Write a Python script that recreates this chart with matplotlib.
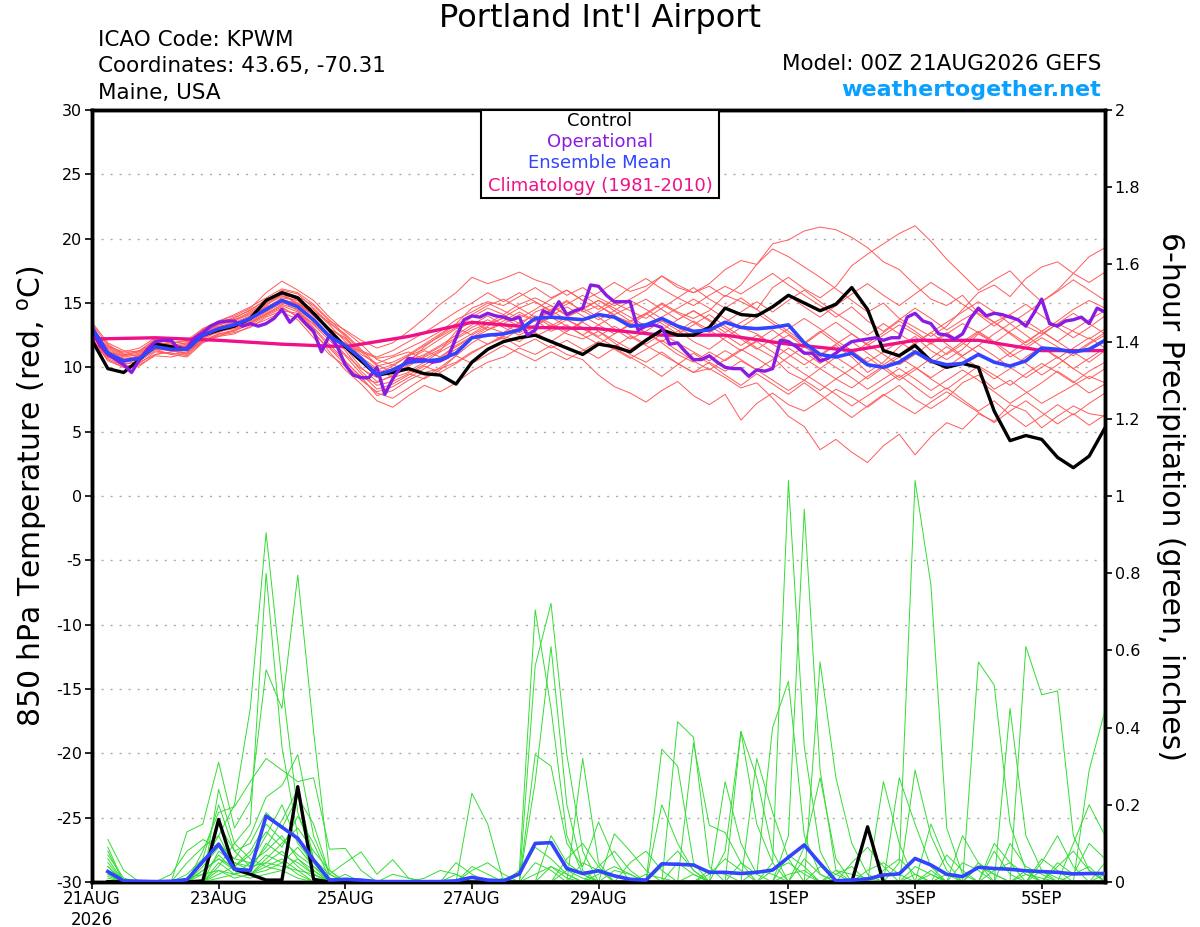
import numpy as np
import matplotlib
matplotlib.use("Agg")
import matplotlib.pyplot as plt
from matplotlib.patches import Rectangle

plt.rcParams['font.family'] = ['DejaVu Sans']
plt.rcParams['axes.unicode_minus'] = False

# forecast hours, 6-hourly (temps) and 3-hourly (operational)
hours = np.arange(0, 385, 6)
hours_op = np.arange(0, 385, 3)
hours_pr = np.arange(6, 385, 6)
clim_hours = np.arange(0, 385, 24)

tick_hours = [0, 48, 96, 144, 192, 264, 312, 360]
tick_labels = ['21AUG\n2026', '23AUG', '25AUG', '27AUG', '29AUG', '1SEP', '3SEP', '5SEP']

# 850 hPa temperature (C)
t_control = [12.1, 9.9, 9.6, 10.6, 11.8, 11.6, 11.4, 12.5, 12.9, 13.2, 13.8, 15.2, 15.8,
             15.4, 14.2, 12.9, 11.6, 10.5, 9.4, 9.6, 9.9, 9.5, 9.4, 8.7, 10.4, 11.4,
             12.0, 12.3, 12.5, 12.0, 11.5, 11.0, 11.8, 11.6, 11.2, 12.1, 12.9, 12.5, 12.5,
             13.1, 14.6, 14.1, 14.0, 14.7, 15.6, 15.0, 14.4, 14.9, 16.2, 14.5, 11.3, 10.9,
             11.7, 10.5, 10.0, 10.3, 10.0, 6.6, 4.3, 4.7, 4.4, 3.0, 2.2, 3.1, 5.3]

t_mean = [13.1, 11.1, 10.5, 10.7, 11.6, 11.4, 11.4, 12.5, 13.0, 13.3, 13.8, 14.5, 15.2,
          14.7, 13.7, 12.4, 11.7, 10.7, 9.4, 9.8, 10.4, 10.5, 10.6, 11.1, 12.3, 12.5,
          12.6, 12.9, 13.8, 13.9, 13.8, 13.7, 14.1, 13.9, 13.2, 13.3, 13.8, 13.2, 12.8,
          12.9, 13.5, 13.1, 13.0, 13.1, 13.3, 11.9, 11.0, 10.8, 11.1, 10.2, 10.0, 10.4,
          11.2, 10.5, 10.2, 10.3, 11.0, 10.4, 10.1, 10.5, 11.5, 11.4, 11.2, 11.4, 12.1]

t_oper = [12.9, 11.7, 11.0, 10.6, 10.2, 9.6, 10.6, 11.4, 12.0, 12.1,
          12.1, 11.4, 11.5, 12.3, 12.7, 13.2, 13.5, 13.6, 13.6, 13.2,
          13.4, 13.2, 13.4, 13.8, 14.5, 13.5, 14.1, 13.4, 12.8, 11.2,
          12.5, 11.6, 10.2, 9.4, 9.2, 9.2, 10.0, 7.9, 9.1, 10.0,
          10.7, 10.6, 10.6, 10.4, 10.5, 10.8, 12.3, 13.7, 14.0, 13.9,
          14.2, 14.0, 13.9, 13.7, 13.9, 12.5, 12.9, 14.4, 14.1, 15.1,
          14.1, 14.4, 14.6, 16.4, 16.3, 15.6, 15.1, 15.1, 15.1, 12.9,
          13.2, 13.3, 13.1, 11.8, 11.9, 11.2, 10.6, 10.6, 10.9, 10.4,
          10.0, 9.9, 9.9, 9.3, 9.8, 9.7, 9.9, 12.1, 12.0, 11.6,
          11.1, 11.1, 10.5, 10.7, 11.1, 11.6, 12.0, 12.1, 12.2, 12.3,
          12.1, 12.3, 12.3, 13.9, 14.2, 13.6, 13.4, 12.6, 12.5, 12.2,
          12.6, 13.8, 14.6, 14.0, 14.2, 14.1, 13.9, 13.7, 13.2, 14.2,
          15.3, 13.4, 13.2, 13.6, 13.7, 13.9, 13.4, 14.6, 14.3]

t_clim = [12.2, 12.3, 12.1, 11.8, 11.6, 12.4, 13.5, 13.1, 13.0, 12.5, 12.5, 11.8,
          11.3, 12.1, 12.1, 11.3, 11.3]

# ensemble members (estimated)
t_m01 = [12.8, 11.4, 10.8, 11.0, 11.9, 11.8, 11.6, 12.8, 13.3, 13.6, 14.2, 15.0, 15.6,
         15.0, 14.1, 13.0, 12.3, 11.2, 10.1, 10.4, 11.0, 11.8, 12.6, 13.4, 14.6, 15.1,
         14.8, 15.5, 16.2, 15.4, 16.0, 15.2, 15.8, 16.6, 15.9, 16.3, 17.1, 16.4, 15.8,
         16.5, 17.6, 18.3, 18.0, 19.6, 19.9, 20.6, 20.9, 20.7, 20.1, 19.3, 18.2, 17.6,
         16.4, 15.3, 14.8, 15.6, 14.2, 13.5, 14.1, 13.2, 12.6, 13.4, 12.8, 12.2, 13.0]
t_m02 = [13.3, 11.0, 10.2, 10.5, 11.3, 11.0, 11.2, 12.2, 12.8, 13.0, 13.5, 14.2, 14.8,
         14.3, 13.0, 11.6, 10.4, 9.3, 7.8, 8.2, 9.0, 9.6, 9.9, 10.4, 11.2, 11.8,
         12.4, 12.0, 12.9, 13.3, 12.6, 12.2, 12.8, 11.9, 11.0, 10.4, 11.2, 10.3, 9.6,
         9.9, 9.2, 8.4, 8.8, 7.6, 6.2, 5.4, 3.6, 4.4, 3.4, 2.6, 3.9, 4.8,
         3.2, 4.6, 5.7, 5.2, 6.4, 5.8, 7.1, 6.6, 5.3, 6.2, 7.0, 6.4, 6.2]
t_m03 = [12.5, 11.6, 11.2, 11.5, 12.3, 12.0, 11.8, 13.0, 13.6, 14.0, 14.6, 15.8, 16.7,
         16.0, 15.2, 13.9, 12.8, 11.8, 10.6, 10.2, 10.9, 11.4, 12.2, 13.0, 13.9, 14.6,
         14.1, 14.9, 15.4, 14.8, 14.0, 14.6, 15.2, 14.4, 13.6, 14.2, 15.0, 14.3, 13.8,
         14.4, 15.6, 15.1, 14.5, 16.2, 17.0, 16.1, 15.4, 16.3, 17.9, 18.8, 19.6, 20.4,
         21.0, 19.8, 18.4, 17.2, 16.0, 16.8, 17.5, 16.2, 15.1, 16.0, 17.3, 18.6, 19.3]
t_m04 = [12.9, 11.8, 11.0, 11.2, 12.0, 11.7, 11.9, 12.9, 13.4, 13.9, 14.4, 15.3, 15.9,
         15.5, 14.8, 13.6, 12.9, 12.1, 11.5, 11.9, 12.8, 13.8, 14.9, 15.8, 17.0, 16.5,
         16.9, 17.4, 16.8, 16.4, 15.6, 16.2, 15.4, 14.8, 15.3, 16.0, 17.1, 16.2, 15.8,
         16.3, 15.5, 16.4, 18.0, 19.2, 18.6, 17.8, 17.0, 16.1, 15.2, 14.3, 15.0, 13.8,
         13.1, 12.4, 13.2, 14.5, 15.8, 16.4, 15.5, 16.9, 17.8, 18.2, 17.3, 16.6, 17.4]
t_m05 = [12.0, 10.6, 10.0, 10.3, 11.2, 11.1, 10.9, 12.0, 12.6, 12.9, 13.3, 14.0, 14.6,
         14.0, 12.8, 11.2, 9.8, 8.7, 7.4, 6.9, 7.8, 8.6, 8.1, 8.8, 9.7, 10.4,
         10.8, 11.5, 11.0, 11.7, 11.0, 10.6, 9.4, 8.5, 8.0, 7.3, 8.2, 8.9, 7.8,
         7.1, 7.9, 5.9, 7.2, 8.0, 7.1, 6.6, 7.4, 8.3, 7.7, 6.9, 7.8, 8.6,
         7.5, 6.8, 7.6, 8.8, 9.4, 8.3, 9.0, 8.1, 7.2, 7.9, 8.6, 9.3, 8.8]
t_m06 = [13.0, 11.2, 10.6, 10.9, 11.7, 11.6, 11.3, 12.6, 13.1, 13.5, 14.0, 14.7, 15.3,
         14.6, 13.5, 12.5, 11.5, 10.0, 8.9, 9.3, 10.1, 10.8, 11.4, 12.2, 12.9, 13.4,
         13.8, 13.2, 14.3, 14.8, 14.1, 14.6, 13.9, 13.0, 12.2, 12.8, 13.6, 12.9, 12.0,
         11.4, 12.3, 13.1, 12.6, 11.8, 12.5, 11.6, 10.9, 11.7, 10.8, 9.6, 10.4, 11.6,
         12.4, 11.3, 10.6, 11.4, 12.6, 11.9, 10.8, 11.5, 12.3, 11.6, 10.9, 11.8, 12.5]
t_m07 = [12.6, 10.8, 10.4, 10.6, 11.4, 11.3, 11.0, 12.3, 12.9, 13.1, 13.6, 14.3, 15.0,
         14.9, 14.0, 13.0, 12.2, 11.0, 10.3, 10.8, 11.2, 10.6, 11.3, 12.8, 13.6, 12.9,
         13.4, 14.1, 13.6, 14.5, 15.2, 14.3, 14.8, 14.0, 13.5, 14.2, 13.4, 12.6, 13.3,
         14.1, 13.2, 12.4, 11.5, 10.8, 9.6, 9.0, 8.2, 9.1, 8.4, 9.3, 10.1, 9.2,
         10.0, 9.1, 8.3, 9.2, 10.1, 9.4, 8.6, 9.5, 10.3, 9.6, 8.8, 9.7, 10.4]
t_m08 = [13.2, 11.3, 10.7, 10.8, 11.6, 11.5, 11.7, 12.7, 13.2, 13.4, 13.9, 14.6, 15.4,
         15.2, 14.5, 13.3, 12.0, 10.8, 9.9, 9.2, 9.6, 10.2, 10.8, 11.6, 12.3, 13.1,
         12.7, 13.5, 14.0, 13.4, 12.8, 13.6, 14.3, 15.0, 14.4, 13.8, 14.6, 15.4, 14.8,
         15.6, 16.3, 15.7, 16.5, 17.3, 16.4, 15.6, 14.8, 13.9, 14.7, 13.6, 12.8, 13.7,
         14.6, 13.8, 12.9, 13.7, 14.4, 13.5, 12.7, 11.9, 12.8, 13.6, 14.5, 15.2, 14.6]
t_m09 = [12.4, 10.9, 10.3, 10.4, 11.0, 11.2, 11.5, 12.4, 12.7, 13.2, 13.9, 14.8, 15.7,
         15.3, 14.2, 12.7, 11.3, 9.7, 8.6, 8.9, 9.5, 9.1, 9.8, 10.9, 11.9, 12.6,
         12.2, 12.9, 13.7, 12.8, 13.3, 12.5, 11.8, 12.6, 13.4, 12.7, 11.9, 11.0, 10.4,
         11.2, 10.5, 11.3, 12.0, 11.2, 10.3, 9.5, 8.7, 7.9, 7.0, 7.8, 8.6, 9.4,
         8.5, 7.6, 8.4, 7.5, 6.6, 7.4, 6.3, 5.4, 6.2, 7.1, 6.3, 7.2, 8.0]
t_m10 = [13.1, 11.5, 10.9, 11.1, 11.8, 11.4, 11.6, 12.4, 13.0, 13.7, 14.3, 15.1, 16.0,
         15.7, 14.6, 13.4, 12.6, 11.4, 10.2, 9.6, 10.4, 11.6, 12.5, 13.3, 14.1, 14.8,
         15.3, 14.6, 15.1, 14.3, 14.9, 15.6, 14.8, 14.1, 14.7, 15.3, 14.5, 13.7, 14.4,
         13.6, 12.7, 13.5, 14.2, 13.4, 12.6, 11.8, 12.7, 13.5, 12.6, 11.7, 12.5, 13.3,
         12.6, 11.8, 12.6, 13.4, 12.7, 11.9, 12.8, 13.6, 12.8, 12.0, 12.9, 13.7, 14.4]
t_m11 = [12.7, 11.0, 10.5, 10.7, 11.5, 11.3, 11.1, 12.1, 12.6, 12.8, 13.4, 14.1, 14.9,
         14.5, 13.3, 12.1, 10.9, 9.5, 8.3, 8.7, 9.4, 10.1, 9.6, 10.3, 11.1, 11.8,
         12.5, 13.1, 12.4, 13.0, 13.7, 13.1, 12.4, 13.2, 12.5, 11.8, 12.6, 11.9, 11.2,
         10.5, 11.3, 10.6, 9.8, 10.6, 11.5, 10.7, 9.9, 9.1, 9.9, 10.8, 9.9, 9.0,
         9.8, 10.7, 11.6, 10.8, 10.0, 9.1, 9.9, 10.8, 11.6, 10.8, 9.9, 10.7, 11.5]
t_m12 = [13.4, 11.7, 11.1, 11.3, 12.1, 11.9, 12.0, 12.9, 13.5, 13.8, 14.5, 15.2, 15.8,
         14.8, 13.6, 12.4, 11.9, 11.2, 10.7, 10.9, 11.5, 12.1, 12.8, 13.7, 14.3, 15.0,
         14.4, 13.8, 14.5, 15.3, 16.0, 15.2, 14.5, 15.3, 16.2, 16.9, 16.1, 15.4, 16.2,
         15.3, 14.6, 15.4, 14.5, 13.6, 12.8, 11.9, 12.8, 11.9, 11.0, 11.9, 12.7, 13.6,
         12.8, 11.9, 11.0, 11.8, 12.7, 13.5, 12.6, 11.7, 12.5, 13.4, 14.2, 13.4, 12.6]
t_m13 = [12.2, 10.7, 10.1, 10.2, 10.9, 10.8, 11.1, 12.0, 12.5, 12.7, 13.1, 13.9, 14.4,
         14.2, 13.4, 12.3, 11.0, 9.9, 9.2, 9.7, 10.6, 11.3, 10.8, 11.7, 12.4, 11.8,
         12.3, 11.6, 12.2, 11.5, 12.1, 11.4, 10.7, 11.5, 10.8, 10.1, 9.3, 10.2, 11.1,
         10.3, 9.4, 8.6, 9.5, 8.7, 7.9, 8.8, 7.9, 7.0, 6.1, 7.0, 7.9, 7.1,
         6.4, 7.3, 8.1, 7.3, 6.5, 5.7, 6.6, 7.4, 6.5, 5.6, 6.4, 5.5, 6.3]
t_m14 = [12.9, 11.1, 10.6, 10.6, 11.5, 11.6, 11.8, 12.6, 13.1, 13.4, 13.9, 14.5, 15.2,
         15.0, 14.3, 13.5, 12.4, 10.7, 9.4, 9.9, 10.5, 11.0, 11.7, 12.5, 13.3, 14.0,
         13.3, 12.7, 13.3, 14.0, 14.7, 14.0, 13.3, 12.6, 13.3, 14.1, 14.9, 14.2, 13.5,
         12.7, 13.5, 14.3, 15.1, 14.3, 15.2, 16.0, 15.1, 14.2, 13.4, 12.5, 13.4, 12.6,
         11.8, 12.7, 13.5, 14.3, 15.1, 14.3, 13.4, 14.2, 15.1, 15.9, 16.8, 16.0, 15.2]
t_m15 = [12.3, 10.5, 10.0, 10.1, 11.0, 11.2, 11.3, 12.1, 12.4, 12.9, 13.5, 14.1, 14.7,
         13.9, 12.6, 11.5, 10.2, 9.1, 8.0, 7.6, 8.4, 9.2, 10.0, 10.9, 10.3, 11.0,
         11.7, 11.1, 10.5, 11.2, 10.6, 11.3, 12.0, 11.4, 10.7, 11.4, 12.1, 11.3, 10.5,
         9.8, 10.6, 11.4, 10.7, 9.9, 10.8, 11.6, 10.8, 10.0, 9.2, 8.3, 9.1, 9.9,
         9.1, 8.2, 9.0, 9.8, 9.0, 8.1, 7.2, 8.0, 8.8, 9.7, 8.9, 8.0, 8.7]
t_m16 = [13.0, 11.3, 10.4, 10.8, 11.7, 11.5, 11.4, 12.7, 13.3, 13.7, 14.1, 14.9, 15.5,
         15.2, 14.0, 12.8, 11.6, 10.4, 9.5, 10.1, 10.9, 11.7, 12.4, 13.1, 12.5, 13.2,
         13.9, 14.6, 13.9, 13.2, 13.9, 14.5, 15.2, 14.6, 13.9, 13.2, 13.9, 14.6, 15.3,
         14.6, 13.8, 13.1, 13.9, 14.8, 15.6, 14.7, 13.9, 14.8, 15.7, 16.5, 15.6, 14.8,
         15.7, 16.6, 15.8, 14.9, 14.1, 13.2, 14.1, 14.9, 14.0, 13.1, 12.3, 13.1, 14.0]
t_m17 = [12.6, 11.2, 10.9, 11.3, 12.2, 11.9, 11.5, 12.5, 13.0, 13.3, 13.7, 14.4, 15.1,
         14.4, 13.1, 11.8, 10.5, 9.2, 8.8, 9.4, 10.2, 10.9, 11.6, 12.3, 13.1, 13.7,
         13.1, 12.5, 13.2, 13.9, 13.2, 12.5, 13.3, 14.0, 13.4, 12.7, 12.0, 12.8, 13.6,
         12.9, 12.1, 11.3, 12.1, 12.9, 12.0, 11.2, 10.3, 11.1, 12.0, 11.1, 10.2, 11.0,
         11.9, 12.7, 11.8, 10.9, 11.7, 12.6, 13.4, 12.5, 11.6, 10.7, 11.5, 12.3, 11.5]
t_m18 = [12.1, 10.8, 10.6, 10.9, 11.8, 11.9, 12.1, 13.0, 13.6, 14.1, 14.7, 15.4, 16.1,
         15.8, 14.9, 13.7, 12.5, 11.3, 10.8, 11.3, 12.0, 12.7, 13.5, 14.3, 15.0, 15.8,
         15.1, 15.8, 15.1, 14.4, 15.1, 14.4, 13.7, 14.4, 15.2, 14.5, 13.8, 13.1, 12.4,
         13.2, 12.5, 11.7, 12.5, 11.8, 11.0, 10.2, 11.0, 11.8, 12.6, 11.8, 11.0, 10.2,
         11.0, 11.9, 12.7, 11.9, 11.1, 10.3, 11.1, 12.0, 12.8, 12.0, 11.2, 10.4, 11.3]
t_m19 = [13.5, 11.9, 11.3, 11.2, 11.9, 11.7, 11.6, 12.3, 12.8, 13.1, 13.8, 14.6, 15.3,
         14.9, 14.1, 12.9, 11.7, 10.6, 9.8, 10.2, 9.7, 10.4, 11.2, 11.9, 12.6, 13.4,
         14.1, 13.4, 12.7, 12.0, 12.8, 13.5, 12.8, 12.1, 11.4, 12.2, 12.9, 13.7, 14.4,
         13.7, 13.0, 12.2, 11.4, 12.2, 13.0, 13.8, 13.0, 12.1, 11.3, 10.4, 11.2, 12.0,
         11.2, 10.3, 11.1, 12.0, 12.8, 12.0, 11.1, 10.3, 9.4, 10.2, 11.1, 11.9, 12.7]
t_m20 = [12.8, 11.6, 11.0, 10.9, 11.4, 11.0, 10.8, 11.9, 12.4, 12.6, 13.2, 13.7, 14.3,
         13.7, 12.3, 11.0, 10.1, 9.0, 8.1, 8.5, 9.2, 9.9, 10.7, 11.4, 12.2, 12.9,
         13.6, 14.3, 13.6, 14.4, 13.7, 13.0, 12.3, 11.6, 12.4, 11.7, 11.0, 10.3, 9.6,
         10.4, 9.7, 10.5, 9.8, 9.0, 8.2, 9.0, 9.9, 10.8, 10.0, 9.1, 10.0, 10.8,
         10.0, 9.2, 10.0, 10.9, 11.7, 10.9, 10.0, 9.2, 10.0, 10.8, 9.9, 9.1, 9.9]

# 6-hour precipitation (inches), control and ensemble mean, steps 1..64
p_control = [0.001, 0, 0, 0, 0, 0, 0.003, 0.162, 0.033, 0.02, 0.005, 0.005, 0.247, 0.007, 0, 0,
             0, 0, 0, 0, 0, 0, 0, 0, 0, 0, 0, 0, 0, 0, 0, 0,
             0, 0, 0, 0, 0, 0, 0, 0, 0, 0, 0, 0, 0, 0, 0, 0,
             0.143, 0, 0, 0, 0, 0, 0, 0, 0, 0, 0, 0, 0, 0, 0, 0]
p_mean = [0.027, 0.003, 0.002, 0.001, 0.002, 0.006, 0.053, 0.098, 0.033, 0.03, 0.171, 0.142, 0.113, 0.057, 0.005, 0.007,
          0.005, 0.001, 0.001, 0.001, 0.001, 0.001, 0.003, 0.012, 0.005, 0.003, 0.021, 0.1, 0.102, 0.035, 0.022, 0.029,
          0.016, 0.007, 0.005, 0.047, 0.046, 0.044, 0.025, 0.025, 0.022, 0.025, 0.031, 0.064, 0.096, 0.048, 0.003, 0.005,
          0.008, 0.018, 0.021, 0.061, 0.044, 0.02, 0.014, 0.038, 0.035, 0.033, 0.029, 0.027, 0.025, 0.021, 0.022, 0.022]

# ensemble member precipitation, {step: inches}, other steps dry (estimated)
p_m01 = {1: 0.11, 2: 0.03, 7: 0.05, 8: 0.12, 9: 0.2, 10: 0.45, 11: 0.905, 12: 0.52, 13: 0.18, 14: 0.06,
         15: 0.02, 27: 0.03, 28: 0.705, 29: 0.45, 30: 0.12, 31: 0.02, 43: 0.05, 44: 1.04, 45: 0.35,
         46: 0.08, 52: 0.02, 56: 0.05, 57: 0.02}
p_m02 = {1: 0.08, 8: 0.24, 9: 0.1, 10: 0.15, 11: 0.8, 12: 0.35, 13: 0.12, 14: 0.03, 28: 0.56,
         29: 0.722, 30: 0.33, 31: 0.08, 44: 0.12, 45: 0.966, 46: 0.29, 47: 0.03, 58: 0.45, 59: 0.12, 60: 0.03}
p_m03 = {1: 0.05, 6: 0.13, 7: 0.15, 8: 0.31, 9: 0.14, 10: 0.21, 11: 0.55, 12: 0.45, 13: 0.795,
         14: 0.39, 15: 0.03, 51: 0.05, 52: 1.04, 53: 0.77, 54: 0.14, 55: 0.02}
p_m04 = {1: 0.03, 7: 0.08, 8: 0.18, 9: 0.195, 10: 0.26, 11: 0.32, 12: 0.29, 13: 0.26, 14: 0.27,
         15: 0.085, 16: 0.087, 17: 0.03, 36: 0.344, 37: 0.3, 38: 0.05, 56: 0.57, 57: 0.51, 58: 0.15, 59: 0.03}
p_m05 = {1: 0.09, 5: 0.02, 6: 0.08, 7: 0.11, 8: 0.09, 9: 0.06, 10: 0.12, 11: 0.22, 12: 0.25,
         13: 0.33, 14: 0.12, 15: 0.02, 16: 0.05, 17: 0.078, 18: 0.02, 19: 0.058, 20: 0.01, 24: 0.23,
         25: 0.15, 31: 0.32, 32: 0.05, 59: 0.61, 60: 0.485, 61: 0.495, 62: 0.12, 63: 0.03}
p_m06 = {1: 0.04, 8: 0.15, 9: 0.08, 10: 0.1, 11: 0.18, 12: 0.14, 13: 0.22, 14: 0.15, 15: 0.02,
         28: 0.33, 29: 0.3, 30: 0.1, 31: 0.04, 32: 0.156, 33: 0.06, 37: 0.415, 38: 0.375, 39: 0.04,
         41: 0.39, 42: 0.27, 43: 0.08, 63: 0.29, 64: 0.445}
p_m07 = {1: 0.02, 7: 0.05, 8: 0.1, 9: 0.06, 10: 0.05, 11: 0.12, 12: 0.2, 13: 0.1, 14: 0.05,
         28: 0.26, 29: 0.61, 30: 0.2, 31: 0.03, 40: 0.26, 41: 0.1, 42: 0.02, 43: 0.4, 44: 0.52,
         45: 0.12, 46: 0.02, 50: 0.26, 51: 0.1, 57: 0.08, 58: 0.02}
p_m08 = {1: 0.06, 7: 0.03, 8: 0.06, 9: 0.04, 10: 0.08, 11: 0.15, 12: 0.11, 13: 0.07, 14: 0.04,
         15: 0.01, 23: 0.05, 24: 0.02, 29: 0.12, 30: 0.05, 31: 0.02, 38: 0.36, 39: 0.147, 40: 0.128,
         41: 0.05, 46: 0.57, 47: 0.27, 48: 0.1, 49: 0.02, 53: 0.15, 54: 0.05}
p_m09 = {8: 0.08, 9: 0.05, 10: 0.04, 11: 0.09, 12: 0.16, 13: 0.24, 14: 0.06, 33: 0.125, 34: 0.08,
         35: 0.03, 42: 0.32, 43: 0.18, 44: 0.06, 52: 0.29, 53: 0.12, 54: 0.03, 60: 0.05, 61: 0.12, 62: 0.04}
p_m10 = {7: 0.02, 8: 0.07, 9: 0.03, 10: 0.02, 11: 0.06, 12: 0.1, 13: 0.14, 14: 0.08, 15: 0.03,
         36: 0.2, 37: 0.1, 38: 0.03, 40: 0.08, 41: 0.39, 42: 0.15, 43: 0.05, 55: 0.12, 56: 0.05,
         62: 0.1, 63: 0.2, 64: 0.12}
p_m11 = {1: 0.03, 6: 0.05, 7: 0.09, 8: 0.12, 9: 0.04, 10: 0.07, 11: 0.13, 12: 0.09, 13: 0.17,
         14: 0.1, 15: 0.01, 24: 0.03, 25: 0.05, 26: 0.02, 32: 0.04, 33: 0.08, 34: 0.03, 45: 0.06,
         46: 0.02, 51: 0.27, 52: 0.15, 53: 0.04, 57: 0.1, 58: 0.05}
p_m12 = {8: 0.05, 9: 0.02, 10: 0.03, 11: 0.07, 12: 0.05, 13: 0.09, 14: 0.04, 16: 0.02, 21: 0.01,
         22: 0.03, 23: 0.02, 30: 0.06, 31: 0.1, 32: 0.04, 39: 0.02, 40: 0.06, 41: 0.03, 47: 0.03,
         48: 0.02, 49: 0.01, 54: 0.07, 55: 0.03, 61: 0.04, 62: 0.08, 63: 0.03}
p_m13 = {1: 0.01, 7: 0.04, 8: 0.09, 9: 0.05, 10: 0.03, 11: 0.1, 12: 0.07, 13: 0.05, 14: 0.02,
         27: 0.02, 28: 0.09, 29: 0.06, 30: 0.02, 36: 0.04, 37: 0.08, 38: 0.03, 44: 0.07, 45: 0.04,
         50: 0.03, 51: 0.06, 52: 0.02, 58: 0.1, 59: 0.04, 60: 0.02, 64: 0.05}
p_m14 = {1: 0.07, 2: 0.01, 8: 0.03, 9: 0.02, 10: 0.05, 11: 0.08, 12: 0.12, 13: 0.06, 14: 0.02,
         26: 0.01, 34: 0.05, 35: 0.08, 36: 0.03, 48: 0.05, 49: 0.09, 50: 0.04, 56: 0.04, 57: 0.02,
         60: 0.06, 61: 0.03}
p_m15 = {6: 0.02, 7: 0.06, 8: 0.2, 9: 0.08, 10: 0.04, 11: 0.05, 12: 0.08, 13: 0.04, 14: 0.01,
         29: 0.04, 30: 0.02, 33: 0.03, 34: 0.02, 41: 0.05, 42: 0.02, 45: 0.09, 46: 0.27, 47: 0.06,
         53: 0.03, 62: 0.02, 63: 0.1, 64: 0.06}
p_m16 = {1: 0.02, 8: 0.04, 9: 0.1, 10: 0.06, 11: 0.04, 12: 0.06, 13: 0.03, 24: 0.04, 25: 0.02,
         31: 0.05, 32: 0.03, 37: 0.05, 38: 0.02, 43: 0.03, 44: 0.05, 45: 0.02, 52: 0.04, 53: 0.02, 59: 0.03}
p_m17 = {7: 0.03, 8: 0.06, 9: 0.03, 10: 0.02, 11: 0.04, 12: 0.03, 13: 0.06, 14: 0.03, 19: 0.02,
         20: 0.01, 28: 0.05, 29: 0.03, 35: 0.02, 36: 0.01, 46: 0.04, 47: 0.02, 55: 0.05, 56: 0.03,
         61: 0.05, 62: 0.02, 63: 0.04}
p_m18 = {1: 0.04, 8: 0.02, 9: 0.04, 10: 0.02, 11: 0.03, 12: 0.05, 13: 0.02, 32: 0.02, 33: 0.04,
         34: 0.02, 39: 0.03, 40: 0.02, 49: 0.03, 50: 0.05, 51: 0.02, 57: 0.03, 58: 0.05, 59: 0.02}
p_m19 = {6: 0.01, 7: 0.02, 8: 0.03, 9: 0.01, 10: 0.02, 11: 0.05, 12: 0.04, 13: 0.03, 14: 0.02,
         23: 0.02, 30: 0.03, 31: 0.01, 42: 0.03, 43: 0.02, 47: 0.02, 48: 0.04, 54: 0.02, 60: 0.03,
         61: 0.01, 64: 0.02}
p_m20 = {1: 0.015, 8: 0.01, 9: 0.02, 10: 0.01, 11: 0.02, 12: 0.03, 13: 0.01, 28: 0.02, 29: 0.04,
         30: 0.01, 38: 0.02, 44: 0.02, 45: 0.03, 53: 0.02, 59: 0.02, 60: 0.01}

temp_members = [t_m01, t_m02, t_m03, t_m04, t_m05, t_m06, t_m07, t_m08, t_m09, t_m10,
                t_m11, t_m12, t_m13, t_m14, t_m15, t_m16, t_m17, t_m18, t_m19, t_m20]
prcp_members = [p_m01, p_m02, p_m03, p_m04, p_m05, p_m06, p_m07, p_m08, p_m09, p_m10,
                p_m11, p_m12, p_m13, p_m14, p_m15, p_m16, p_m17, p_m18, p_m19, p_m20]

c_red = '#ff5a5a'
c_green = '#33dd33'
c_oper = '#8a1be2'
c_mean = '#3344ff'
c_clim = '#ee1188'

fig = plt.figure(figsize=(12, 9.27), dpi=100)
W, H = 1200, 927
ax = fig.add_axes([92 / W, 45 / H, 1013 / W, 772 / H])
ax2 = ax.twinx()

# temperature
for m in temp_members:
    ax.plot(hours, m, color=c_red, lw=0.7, zorder=2)
ax.plot(clim_hours, t_clim, color=c_clim, lw=2.4, zorder=3)
ax.plot(hours, t_control, color='black', lw=2.4, zorder=4)
ax.plot(hours_op, t_oper, color=c_oper, lw=2.4, zorder=5)
ax.plot(hours, t_mean, color=c_mean, lw=2.6, zorder=6)

# precipitation
for m in prcp_members:
    vals = np.zeros(len(hours_pr))
    for k, v in m.items():
        vals[k - 1] = v
    ax2.plot(hours_pr, vals, color=c_green, lw=0.7, zorder=2)
ax2.plot(hours_pr, p_control, color='black', lw=2.4, zorder=4)
ax2.plot(hours_pr, p_mean, color=c_mean, lw=2.6, zorder=5)

ax.set_xlim(0, 384)
ax.set_ylim(-30, 30)
ax2.set_ylim(0, 2)
ax.set_yticks(np.arange(-30, 31, 5))
ax.set_yticklabels([str(v) for v in range(-30, 31, 5)])
ax2.set_yticks(np.arange(0, 2.01, 0.2))
ax2.set_yticklabels(['0', '0.2', '0.4', '0.6', '0.8', '1', '1.2', '1.4', '1.6', '1.8', '2'])
ax.set_xticks(tick_hours)
ax.set_xticklabels(tick_labels)

for g in range(-25, 30, 5):
    ax.axhline(g, color='#aaaaaa', lw=1.0, ls=(0, (1.5, 5)), zorder=1)

for a in (ax, ax2):
    for s in a.spines.values():
        s.set_linewidth(2.5)
    a.tick_params(labelsize=11.5, length=5, width=1.2, pad=2)
ax.tick_params(axis='x', labelsize=12, pad=1)

ax.set_ylabel('850 hPa Temperature (red, $^{\\rm o}$C)', fontsize=21.5, labelpad=5)
ax2.set_ylabel('6-hour Precipitation (green, inches)', fontsize=21.5, rotation=270, labelpad=32)

# header text
fig.text(600 / W, 1 - 18 / H, "Portland Int'l Airport", ha='center', va='center', fontsize=23)
fig.text(98 / W, 1 - 40 / H, 'ICAO Code: KPWM', ha='left', va='center', fontsize=15.5)
fig.text(98 / W, 1 - 66 / H, 'Coordinates: 43.65, -70.31', ha='left', va='center', fontsize=15.5)
fig.text(98 / W, 1 - 93 / H, 'Maine, USA', ha='left', va='center', fontsize=15.5)
fig.text(1101 / W, 1 - 64 / H, 'Model: 00Z 21AUG2026 GEFS', ha='right', va='center', fontsize=15.5)
fig.text(1101 / W, 1 - 90 / H, 'weathertogether.net', ha='right', va='center', fontsize=16,
         fontweight='bold', color='#0aa0ff')

# legend box
fig.patches.append(Rectangle((481 / W, 1 - 198 / H), 238 / W, 88 / H, transform=fig.transFigure,
                             facecolor='white', edgecolor='black', lw=1.5, zorder=10))
leg_items = [('Control', 'black', 121), ('Operational', c_oper, 142),
             ('Ensemble Mean', c_mean, 163), ('Climatology (1981-2010)', c_clim, 186)]
for txt, col, yy in leg_items:
    fig.text(600 / W, 1 - yy / H, txt, ha='center', va='center', fontsize=13, color=col, zorder=11)

fig.savefig('out.png', dpi=100)
